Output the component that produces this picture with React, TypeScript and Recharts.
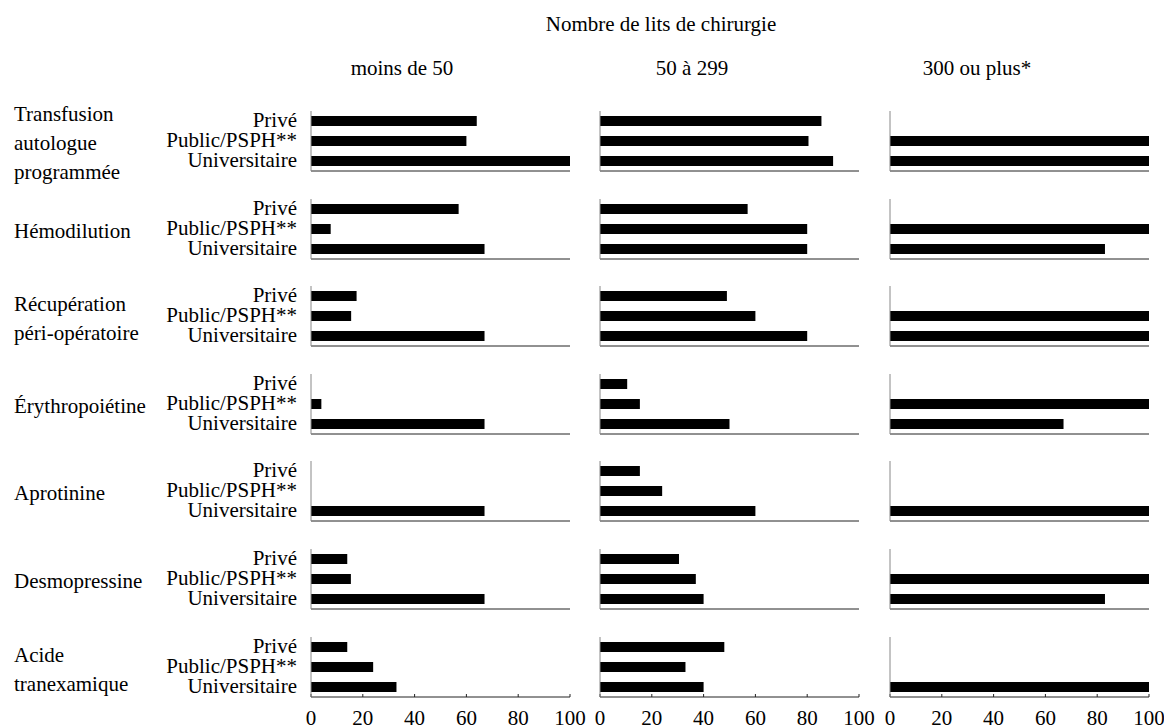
import { Bar, BarChart, XAxis, YAxis } from "recharts";

const techniques = [
  ["Transfusion", "autologue", "programmée"],
  ["Hémodilution"],
  ["Récupération", "péri-opératoire"],
  ["Érythropoiétine"],
  ["Aprotinine"],
  ["Desmopressine"],
  ["Acide", "tranexamique"],
];
const sectors = ["Privé", "Public/PSPH**", "Universitaire"];
const bedSizes = ["moins de 50", "50 à 299", "300 ou plus*"];
const xTicks = [0, 20, 40, 60, 80, 100];

// % of hospitals, one value per technique (same order as techniques)
const priveMoins50 = [64, 57, 17.6, 0, 0, 14, 14];
const publicMoins50 = [60, 7.6, 15.5, 4, 0, 15.4, 24];
const univMoins50 = [100, 67, 67, 67, 67, 67, 33];

const prive50a299 = [85.5, 57, 49, 10.5, 15.4, 30.5, 48];
const public50a299 = [80.5, 80, 60, 15.4, 24, 37, 33];
const univ50a299 = [90, 80, 80, 50, 60, 40, 40];

const prive300 = [0, 0, 0, 0, 0, 0, 0];
const public300 = [100, 100, 100, 100, 0, 100, 0];
const univ300 = [100, 83, 100, 67, 100, 83, 100];

const series = [
  [priveMoins50, publicMoins50, univMoins50],
  [prive50a299, public50a299, univ50a299],
  [prive300, public300, univ300],
];

const FONT = '"Liberation Serif", "Times New Roman", serif';
const FS = 21;
const PLOT_X = [311, 600, 890];
const PLOT_W = 259;
const PLOT_H = 60;
const AXIS_Y0 = 171;
const ROW_STEP = 87.6;
const HEADER_X = [402, 692, 977];
const RIGHT = 16;
const TOP = 14; // room above the plot so the "Privé" accent is not clipped

const axisY = (row: number) => Math.round(AXIS_Y0 + row * ROW_STEP);

function Panel({ col, row }: { col: number; row: number }) {
  const last = row === techniques.length - 1;
  const first = col === 0;
  const yw = first ? PLOT_X[0] : 10;
  const xh = last ? 30 : 4;
  const data = sectors.map((name, k) => ({ name, value: series[col][k][row] }));
  return (
    <div
      style={{
        position: "absolute",
        left: PLOT_X[col] - yw,
        top: axisY(row) - PLOT_H - TOP,
      }}
    >
      <BarChart
        layout="vertical"
        width={yw + PLOT_W + RIGHT}
        height={TOP + PLOT_H + xh}
        data={data}
        margin={{ top: TOP, right: RIGHT, bottom: 0, left: 0 }}
      >
        <XAxis
          type="number"
          domain={[0, 100]}
          ticks={xTicks}
          interval={0}
          height={xh}
          stroke="#222"
          tickSize={-3}
          tickMargin={16}
          tick={last ? { fill: "#000", fontSize: FS, fontFamily: FONT } : false}
        />
        <YAxis
          type="category"
          dataKey="name"
          width={yw}
          interval={0}
          stroke="#888"
          tickLine={false}
          tickSize={0}
          tickMargin={14}
          tick={first ? { fill: "#000", fontSize: FS, fontFamily: FONT, dy: -1 } : false}
        />
        <Bar dataKey="value" fill="#000" barSize={10} isAnimationActive={false} />
      </BarChart>
    </div>
  );
}

export default function App() {
  return (
    <div
      style={{
        position: "absolute",
        left: 0,
        top: 0,
        width: 1164,
        height: 726,
        background: "#fff",
        overflow: "hidden",
      }}
    >
      <svg
        width={1164}
        height={726}
        style={{ position: "absolute", left: 0, top: 0 }}
        fontFamily={FONT}
        fontSize={FS}
      >
        <text x={661} y={24} textAnchor="middle" dominantBaseline="central">
          Nombre de lits de chirurgie
        </text>
        {bedSizes.map((b, i) => (
          <text key={b} x={HEADER_X[i]} y={68} textAnchor="middle" dominantBaseline="central">
            {b}
          </text>
        ))}
        {techniques.map((lines, r) => {
          const c = axisY(r) - 30 + 2;
          return lines.map((l, i) => (
            <text
              key={l}
              x={14}
              y={c + (i - (lines.length - 1) / 2) * 29}
              dominantBaseline="central"
            >
              {l}
            </text>
          ));
        })}
      </svg>
      {techniques.map((_, r) =>
        bedSizes.map((_, c) => <Panel key={`${r}-${c}`} col={c} row={r} />)
      )}
    </div>
  );
}
